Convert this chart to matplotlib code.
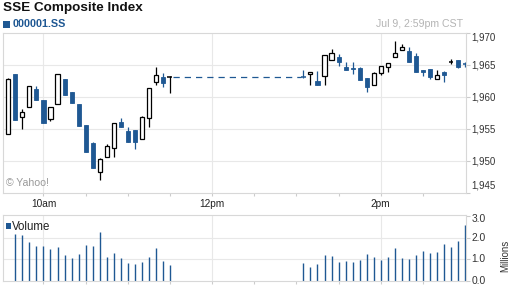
import numpy as np
import matplotlib
matplotlib.use("Agg")
import matplotlib.pyplot as plt
from matplotlib.patches import Rectangle
from matplotlib.transforms import blended_transform_factory

plt.rcParams['font.family'] = ['Liberation Sans', 'DejaVu Sans']

# 5-minute candles, morning session 09:35-11:30
am_open = [1954.2, 1963.65, 1956.8, 1958.4, 1961.25, 1959.5, 1956.5, 1958.85,
           1962.8, 1960.8, 1958.9, 1955.6, 1952.8, 1948.25, 1950.65, 1952.0,
           1956.1, 1954.7, 1954.85, 1953.4, 1956.65, 1962.3, 1963.15, 1963.2]
am_close = [1962.8, 1956.45, 1957.6, 1961.65, 1959.5, 1956.0, 1958.4, 1963.6,
            1960.35, 1959.1, 1955.5, 1951.45, 1948.85, 1950.3, 1952.3, 1955.9,
            1955.35, 1953.0, 1952.9, 1956.8, 1961.35, 1963.4, 1962.15, 1963.2]
am_high = [1963.0, 1963.65, 1958.1, 1961.65, 1961.7, 1959.5, 1958.4, 1963.6,
           1962.8, 1960.8, 1958.9, 1955.6, 1952.95, 1950.5, 1952.65, 1955.9,
           1956.7, 1955.3, 1954.85, 1957.0, 1961.35, 1964.7, 1963.75, 1963.3]
am_low = [1954.2, 1956.45, 1954.95, 1958.4, 1959.5, 1956.0, 1956.2, 1958.85,
          1960.35, 1959.1, 1955.5, 1951.45, 1948.85, 1947.0, 1950.65, 1950.55,
          1955.35, 1953.0, 1951.8, 1953.4, 1955.25, 1961.9, 1961.6, 1960.55]

# afternoon session 13:05-15:00
pm_open = [1963.2, 1963.65, 1962.45, 1963.25, 1965.75, 1966.25, 1964.7, 1964.5,
           1964.55, 1962.9, 1961.8, 1963.7, 1964.7, 1966.2, 1967.35, 1967.2,
           1966.4, 1964.15, 1964.4, 1962.75, 1963.9, 1965.5, 1965.8, 1965.1]
pm_close = [1963.2, 1963.95, 1961.95, 1966.55, 1966.9, 1965.5, 1964.15, 1964.35,
            1962.7, 1961.5, 1963.7, 1964.8, 1965.25, 1966.8, 1967.75, 1965.5,
            1963.95, 1963.85, 1963.2, 1963.4, 1963.5, 1965.5, 1964.75, 1965.1]
pm_high = [1964.15, 1963.95, 1964.0, 1966.55, 1967.45, 1966.65, 1965.45, 1965.4,
           1964.65, 1962.9, 1963.85, 1964.8, 1965.25, 1968.75, 1968.25, 1967.75,
           1966.9, 1964.15, 1964.4, 1964.15, 1964.1, 1965.9, 1965.8, 1965.45]
pm_low = [1963.0, 1961.95, 1961.95, 1961.95, 1965.75, 1964.9, 1964.15, 1963.55,
          1962.7, 1960.85, 1961.8, 1963.5, 1963.95, 1966.2, 1967.35, 1965.5,
          1963.95, 1963.25, 1962.85, 1962.75, 1962.4, 1965.2, 1964.6, 1964.75]

# volume in millions (morning starts with the 2nd candle)
am_volume = [2.2, 2.15, 1.82, 1.63, 1.63, 1.48, 1.57, 1.21, 1.07, 1.26, 1.68,
             1.63, 2.29, 1.12, 1.30, 1.07, 0.84, 0.79, 0.88, 1.12, 1.54, 0.93, 0.73]
pm_volume = [0.84, 0.65, 0.79, 1.21, 1.16, 0.88, 0.93, 0.88, 0.98, 1.26, 1.12, 0.98,
             1.12, 1.54, 1.07, 1.02, 1.21, 1.40, 1.30, 1.35, 1.73, 1.59, 1.87, 2.62]

dark_doji = {("am", 23), ("pm", 21)}

price_ticks = [1945, 1950, 1955, 1960, 1965, 1970]
vol_ticks = [0, 1, 2, 3]
time_labels = {30: "10am", 150: "12pm", 270: "2pm"}

blue = "#1f5893"
grid_c = "#e8e8e8"
spine_c = "#d8d8d8"

# minutes since 9:30 (lunch break kept on the axis)
am_x = 5 + 5 * np.arange(len(am_open))
pm_x = 215 + 5 * np.arange(len(pm_open))

fig = plt.figure(figsize=(5.12, 2.88), dpi=100)
ax = fig.add_axes([3 / 512, 1 - 193 / 288, 463 / 512, 160 / 288])
ax2 = fig.add_axes([3 / 512, 1 - 280.5 / 288, 463 / 512, 65.5 / 288])

for a in (ax, ax2):
    a.set_xlim(1.2, 330.7)
    for s in a.spines.values():
        s.set_color(spine_c)
        s.set_linewidth(0.8)
    a.set_xticks(np.arange(30, 330, 30))
    a.set_xticklabels([])
    a.tick_params(axis="x", direction="out", length=2, color="#cccccc", width=0.8)
    a.yaxis.tick_right()
    a.tick_params(axis="y", direction="out", length=3, color="#cccccc", width=0.8,
                  labelright=False)
    for m in time_labels:
        a.axvline(m, color=grid_c, lw=0.8, zorder=0)

ax.set_ylim(1945, 1970)
ax.set_yticks(price_ticks)
for p in price_ticks[1:-1]:
    ax.axhline(p, color=grid_c, lw=0.8, zorder=0)

ax2.set_ylim(0, 3.07)
ax2.set_yticks(vol_ticks)
for v in vol_ticks[1:-1]:
    ax2.axhline(v, color=grid_c, lw=0.8, zorder=0)

w = 2.9


def draw_candles(xs, o, h, l, c, session):
    for i, x in enumerate(xs):
        if abs(c[i] - o[i]) < 1e-9:
            col = "black" if (session, i) in dark_doji else blue
            ax.vlines(x, l[i], h[i], color=col, lw=0.9, zorder=2)
            ax.hlines(c[i], x - w / 2 - 0.3, x + w / 2 + 0.3, color=col, lw=1.1, zorder=3)
        elif c[i] > o[i]:
            ax.vlines(x, l[i], h[i], color="black", lw=0.9, zorder=2)
            ax.add_patch(Rectangle((x - w / 2, o[i]), w, c[i] - o[i], facecolor="white",
                                   edgecolor="black", lw=0.9, zorder=3))
        else:
            ax.vlines(x, l[i], h[i], color=blue, lw=0.9, zorder=2)
            ax.add_patch(Rectangle((x - w / 2, c[i]), w, o[i] - c[i], facecolor=blue,
                                   edgecolor=blue, lw=0.6, zorder=3))


draw_candles(am_x, am_open, am_high, am_low, am_close, "am")
draw_candles(pm_x, pm_open, pm_high, pm_low, pm_close, "pm")
ax.plot([am_x[-1] + 2, pm_x[0] - 2], [am_close[-1], pm_open[0]], color=blue,
        lw=0.9, dashes=(5, 4), zorder=1)

ax2.vlines(am_x[1:], 0, am_volume, color=blue, lw=1.0)
ax2.vlines(pm_x, 0, pm_volume, color=blue, lw=1.0)

# right-hand labels
tr = blended_transform_factory(ax.transAxes, ax.transData)
for p in price_ticks:
    va = "center"
    y = p
    if p == 1970:
        y, va = 1970.15, "top"
    elif p == 1945:
        y, va = 1945.4, "bottom"
    ax.text(1.0123, y, f"{p:,}", transform=tr, fontsize=7, color="#333333", va=va, ha="left")
tr2 = blended_transform_factory(ax2.transAxes, ax2.transData)
for v in vol_ticks:
    y = v
    va = "center"
    if v == 3:
        y, va = 3.1, "top"
    ax2.text(1.0123, y, f"{v:.1f}", transform=tr2, fontsize=7.4, color="#333333", va=va, ha="left")

trx = blended_transform_factory(ax.transData, ax.transAxes)
for m, lab in time_labels.items():
    ax.text(m, -0.066, lab, transform=trx, fontsize=7.3, color="#222222", ha="center", va="center")

fig.text(3 / 512, 1 - 7.5 / 288, "SSE Composite Index", fontsize=9.7, fontweight="bold",
         color="#111111", va="center", ha="left")
fig.patches.append(Rectangle((3 / 512, 1 - 28 / 288), 7 / 512, 7 / 288, facecolor=blue,
                             edgecolor="none", transform=fig.transFigure, figure=fig))
fig.text(12.5 / 512, 1 - 24.4 / 288, "000001.SS", fontsize=7.8, fontweight="bold",
         color=blue, va="center", ha="left")
fig.text(463.5 / 512, 1 - 24.4 / 288, "Jul 9, 2:59pm CST", fontsize=7.6, color="#b4b4b4",
         va="center", ha="right")
fig.text(6.5 / 512, 1 - 182.8 / 288, "\u00a9 Yahoo!", fontsize=7.6, color="#999999",
         va="center", ha="left")
fig.patches.append(Rectangle((6 / 512, 1 - 229 / 288), 5 / 512, 6 / 288, facecolor=blue,
                             edgecolor="none", transform=fig.transFigure, figure=fig))
fig.text(12 / 512, 1 - 226.5 / 288, "Volume", fontsize=8.3, color="#222222",
         va="center", ha="left")
fig.text(505 / 512, 1 - 256 / 288, "Millions", fontsize=7, color="#333333", rotation=90,
         va="center", ha="center")

fig.savefig("out.png", dpi=100)
